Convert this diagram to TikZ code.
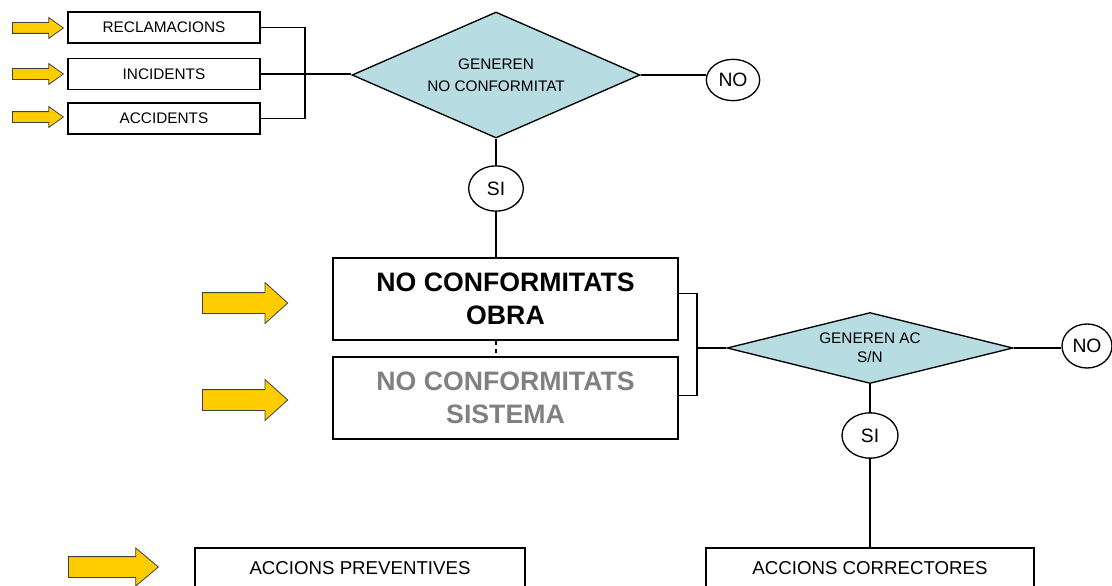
\documentclass[tikz,border=0pt]{standalone}
\usepackage{fontspec}
\setmainfont{Liberation Sans}
\usetikzlibrary{shapes.geometric,shapes.arrows,positioning}
\definecolor{decblue}{RGB}{183,221,226}
\definecolor{arryellow}{RGB}{255,204,0}

\begin{document}
\begin{tikzpicture}[x=0.75pt, y=-0.75pt, line width=1pt,
    box/.style = {draw, rectangle, inner sep=0pt, font=\fontsize{11.5}{14}\selectfont},
    bigbox/.style = {draw, rectangle, inner sep=0pt, minimum width=258.75pt, minimum height=61.5pt, align=center, font=\fontsize{20}{24.75}\selectfont\bfseries},
    decision/.style = {draw, diamond, fill=decblue, inner sep=0pt, align=center},
    answer/.style = {draw, ellipse, inner sep=0pt, font=\fontsize{14.5}{16}\selectfont},
    yarrow/.style = {draw=black!75, line width=0.6pt, fill=arryellow, single arrow, inner xsep=0pt, anchor=tail}]
    \useasboundingbox (0,0) rectangle (1112,585);
    \node[yarrow, inner ysep=3.75pt, minimum height=38.25pt, single arrow head extend=3.75pt, single arrow tip angle=71] (a1) at (12,28) {};
    \node[yarrow, inner ysep=3.75pt, minimum height=38.25pt, single arrow head extend=3.75pt, single arrow tip angle=71] (a2) at (12,74) {};
    \node[yarrow, inner ysep=3.75pt, minimum height=38.25pt, single arrow head extend=3.75pt, single arrow tip angle=71] (a3) at (12,117) {};
    \node[box, minimum width=144pt, minimum height=23.25pt] (rec) at (164,27.5) {RECLAMACIONS};
    \node[box, minimum width=144pt, minimum height=23.25pt] (inc) at (164,74) {INCIDENTS};
    \node[box, minimum width=144pt, minimum height=23.25pt] (acc) at (164,118.5) {ACCIDENTS};
    \node[decision, shape aspect=2.29, minimum width=216pt, minimum height=94.5pt, font=\fontsize{11.5}{16.5}\selectfont] (gnc) at (496,75) {GENEREN\\NO CONFORMITAT};
    \node[answer, minimum width=40pt, minimum height=31pt] (no1) at (733,80) {NO};
    \node[answer, minimum width=41pt, minimum height=34pt] (si1) at (496,188.5) {SI};
    \node[bigbox] (obra) at (505.5,299) {NO CONFORMITATS\\OBRA};
    \node[bigbox, text=black!50] (sist) at (505.5,398) {NO CONFORMITATS\\SISTEMA};
    \node[yarrow, inner ysep=7.5pt, minimum height=64pt, single arrow head extend=7.5pt, single arrow tip angle=84] (a4) at (202,303) {};
    \node[yarrow, inner ysep=7.5pt, minimum height=64pt, single arrow head extend=7.5pt, single arrow tip angle=84] (a5) at (202,400) {};
    \node[decision, shape aspect=4.03, minimum width=214.5pt, minimum height=53.25pt, font=\fontsize{11.5}{14.5}\selectfont] (gac) at (870,348) {GENEREN AC\\S/N};
    \node[answer, minimum width=37.5pt, minimum height=33pt] (no2) at (1087,346) {NO};
    \node[answer, minimum width=42pt, minimum height=34pt] (si2) at (870,435.5) {SI};
    \node[yarrow, inner ysep=7.5pt, minimum height=67.5pt, single arrow head extend=6.5pt, single arrow tip angle=80] (a6) at (68,567) {};
    \node[box, minimum width=247.5pt, minimum height=30pt, font=\fontsize{14}{16}\selectfont] (prev) at (360,568) {ACCIONS PREVENTIVES};
    \node[box, minimum width=246pt, minimum height=30pt, font=\fontsize{14}{16}\selectfont] (corr) at (870,568) {ACCIONS CORRECTORES};
    \coordinate (j1) at (305,74);
    \coordinate (j2) at (697,348);
    \draw (rec.east) -| (j1) |- (acc.east);
    \draw (inc.east) -- (inc.east -| gnc.west);
    \draw (gnc.east) -- (gnc.east -| no1.west);
    \draw (gnc.south) -- (si1.north);
    \draw (si1.south) -- (si1.south |- obra.north);
    \draw[dashed] (obra.south -| si1) -- (sist.north -| si1);
    \draw ([yshift=4pt]obra.east) -| (j2) |- ([yshift=2pt]sist.east);
    \draw (j2) -- (gac.west);
    \draw (gac.east) -- (gac.east -| no2.west);
    \draw (gac.south) -- (si2.north);
    \draw (si2.south) -- (corr.north);
\end{tikzpicture}
\end{document}
